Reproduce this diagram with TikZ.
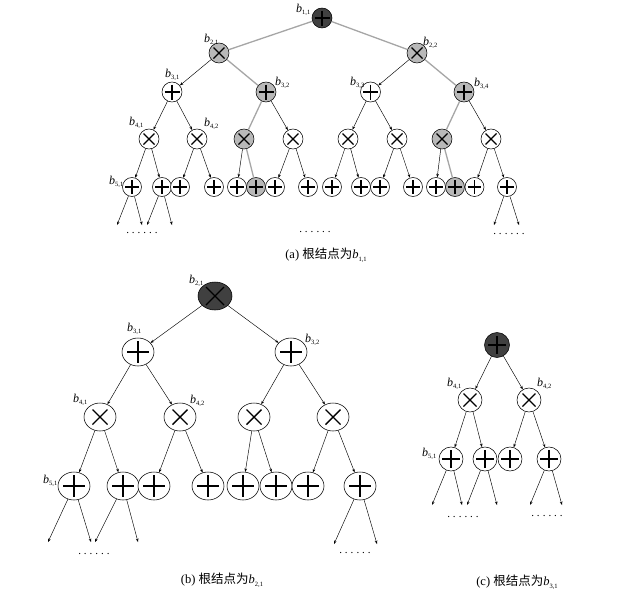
\documentclass[tikz,border=0pt]{standalone}
\usepackage{fontspec}
\setmainfont{Liberation Serif}
\newfontfamily\cjk{Noto Sans CJK SC}
\usetikzlibrary{shapes.geometric,arrows.meta}
\newcommand{\lbl}[1]{\textit{b}\raisebox{-2.5pt}{\fontsize{6.5}{6.5}\selectfont #1}}
\newcommand{\sixdots}{.\kern3pt.\kern3pt.\kern3pt.\kern3pt.\kern3pt.}
\colorlet{gfill}{black!28}
\colorlet{dfill}{black!75}
\colorlet{gedge}{black!35}
\begin{document}
\begin{tikzpicture}[x=1pt,y=-1pt,
  nd/.style={circle,draw,line width=0.55pt,inner sep=0pt,minimum size=#1},
  nd/.default=20,
  el/.style={ellipse,draw,line width=0.55pt,inner sep=0pt,minimum width=#1,minimum height=28},
  el/.default=32,
  symplus/.style 2 args={path picture={\draw[line width=#2,black] (path picture bounding box.center) ++(-#1,0) -- ++(2*#1,0) (path picture bounding box.center) ++(0,-#1) -- ++(0,2*#1);}},
  symcross/.style 2 args={path picture={\draw[line width=#2,black] (path picture bounding box.center) ++(-#1,-#1) -- ++(2*#1,2*#1) (path picture bounding box.center) ++(-#1,#1) -- ++(2*#1,-2*#1);}},
  ed/.style={line width=0.45pt,-{Stealth[length=3.5pt,width=2.6pt]}},
  ge/.style={line width=1.3pt,gedge},
  lab/.style={font=\fontsize{12}{14}\selectfont,inner sep=0pt,anchor=base west},
  captxt/.style={font=\fontsize{12.5}{15}\selectfont,inner sep=0pt},
  dotrow/.style={font=\fontsize{11}{12}\selectfont,inner sep=0pt}
]
\path[use as bounding box,fill=white] (0,0) rectangle (621,595);

% ================= panel (a) =================
\node[nd,fill=dfill,symplus={7.5}{1.1pt}] (r1) at (322,18) {};
\node[nd,fill=gfill,symcross={5.5}{1.1pt}] (a21) at (219,53) {};
\node[nd,fill=gfill,symcross={5.5}{1.1pt}] (a22) at (417,53) {};
\node[nd,fill=white,symplus={7.5}{1.1pt}] (a31) at (172,92) {};
\node[nd,fill=gfill,symplus={7.5}{1.1pt}] (a32) at (266,92) {};
\node[nd,fill=white,symplus={7.5}{1.1pt}] (a33) at (370.5,92) {};
\node[nd,fill=gfill,symplus={7.5}{1.1pt}] (a34) at (464,92) {};
\foreach \x/\f [count=\i] in {149/white,197/white,244/gfill,293/white,348/white,397/white,442/gfill,491/white}
  \node[nd,fill=\f,symcross={5.5}{1.1pt}] (a4\i) at (\x,139) {};
\foreach \x/\f [count=\i] in {132/white,162/white,180/white,214/white,237/white,256/gfill,275/white,308/white,332/white,361/white,380/white,413/white,436/white,455/gfill,474.5/white,507/white}
  \node[nd=19,fill=\f,symplus={6.8}{1.1pt}] (a5\i) at (\x,187) {};

\draw[ge] (r1) -- (a21);
\draw[ge] (r1) -- (a22);
\draw[ge] (a21) -- (a32);
\draw[ge] (a22) -- (a34);
\draw[ge] (a32) -- (a43);
\draw[ge] (a34) -- (a47);
\draw[ge] (a43) -- (a56);
\draw[ge] (a47) -- (a514);
\foreach \p/\c in {a21/a31,a22/a33,a31/a41,a31/a42,a32/a44,a33/a45,a33/a46,a34/a48,
  a41/a51,a41/a52,a42/a53,a42/a54,a43/a55,a44/a57,a44/a58,a45/a59,a45/a510,
  a46/a511,a46/a512,a47/a513,a48/a515,a48/a516}
  \draw[ed] (\p) -- (\c);

\coordinate (ae1) at (117,225);
\coordinate (ae2) at (142,225);
\coordinate (ae3) at (147,225);
\coordinate (ae4) at (172,225);
\coordinate (ae5) at (494,225);
\coordinate (ae6) at (519,225);
\draw[ed] (a51) -- (ae1);
\draw[ed] (a51) -- (ae2);
\draw[ed] (a52) -- (ae3);
\draw[ed] (a52) -- (ae4);
\draw[ed] (a516) -- (ae5);
\draw[ed] (a516) -- (ae6);

\node[dotrow] (ad1) at (142,233) {\sixdots};
\node[dotrow] (ad2) at (315,232) {\sixdots};
\node[dotrow] (ad3) at (509,234) {\sixdots};

\node[lab] (l11) at (296,12) {\lbl{1,1}};
\node[lab] (l21) at (204,42) {\lbl{2,1}};
\node[lab] (l22) at (423,45) {\lbl{2,2}};
\node[lab] (l31) at (165,77) {\lbl{3,1}};
\node[lab] (l32) at (275,85) {\lbl{3,2}};
\node[lab] (l33) at (350,85) {\lbl{3,3}};
\node[lab] (l34) at (474,86) {\lbl{3,4}};
\node[lab] (l41) at (129,125) {\lbl{4,1}};
\node[lab] (l42) at (204,126) {\lbl{4,2}};
\node[lab] (l51) at (109,184) {\lbl{5,1}};

\node[captxt] (capa) at (326,255) {(a) {\cjk 根结点为}\lbl{1,1}};

% ================= panel (b) =================
\node[el=34,fill=dfill,symcross={9}{1.4pt}] (b21) at (215,296) {};
\node[el,fill=white,symplus={11}{1.5pt}] (b31) at (138,352) {};
\node[el,fill=white,symplus={11}{1.5pt}] (b32) at (291,352) {};
\foreach \x [count=\i] in {100,180,254,333}
  \node[el,fill=white,symcross={7.5}{1.4pt}] (b4\i) at (\x,417) {};
\foreach \x [count=\i] in {74,123,154,208,243,276,308,360}
  \node[el,fill=white,symplus={11}{1.5pt}] (b5\i) at (\x,486) {};
\foreach \p/\c in {b21/b31,b21/b32,b31/b41,b31/b42,b32/b43,b32/b44,
  b41/b51,b41/b52,b42/b53,b42/b54,b43/b55,b43/b56,b44/b57,b44/b58}
  \draw[ed] (\p) -- (\c);
\coordinate (be1) at (48,542);
\coordinate (be2) at (91,542);
\coordinate (be3) at (95,542);
\coordinate (be4) at (138,542);
\coordinate (be5) at (334,544);
\coordinate (be6) at (377,544);
\draw[ed] (b51) -- (be1);
\draw[ed] (b51) -- (be2);
\draw[ed] (b52) -- (be3);
\draw[ed] (b52) -- (be4);
\draw[ed] (b58) -- (be5);
\draw[ed] (b58) -- (be6);
\node[dotrow] (bd1) at (94,554) {\sixdots};
\node[dotrow] (bd2) at (355,553) {\sixdots};

\node[lab] (m21) at (189,283) {\lbl{2,1}};
\node[lab] (m31) at (127,331) {\lbl{3,1}};
\node[lab] (m32) at (305,342) {\lbl{3,2}};
\node[lab] (m41) at (73,402) {\lbl{4,1}};
\node[lab] (m42) at (190,403) {\lbl{4,2}};
\node[lab] (m51) at (43,483) {\lbl{5,1}};

\node[captxt] (capb) at (222,580) {(b) {\cjk 根结点为}\lbl{2,1}};

% ================= panel (c) =================
\node[nd=25,fill=dfill,symplus={9}{1.2pt}] (c1) at (497,345) {};
\node[nd=24,fill=white,symcross={6.5}{1.2pt}] (c41) at (470,400) {};
\node[nd=24,fill=white,symcross={6.5}{1.2pt}] (c42) at (529,400) {};
\foreach \x [count=\i] in {451,485,510,549}
  \node[nd=24,fill=white,symplus={9}{1.2pt}] (c5\i) at (\x,459) {};
\foreach \p/\c in {c1/c41,c1/c42,c41/c51,c41/c52,c42/c53,c42/c54}
  \draw[ed] (\p) -- (\c);
\coordinate (ce1) at (432,505);
\coordinate (ce2) at (462,505);
\coordinate (ce3) at (467,505);
\coordinate (ce4) at (497,505);
\coordinate (ce5) at (530,505);
\coordinate (ce6) at (562,505);
\draw[ed] (c51) -- (ce1);
\draw[ed] (c51) -- (ce2);
\draw[ed] (c52) -- (ce3);
\draw[ed] (c52) -- (ce4);
\draw[ed] (c54) -- (ce5);
\draw[ed] (c54) -- (ce6);
\node[dotrow] (cd1) at (463,517) {\sixdots};
\node[dotrow] (cd2) at (547,516) {\sixdots};

\node[lab] (n41) at (447,386) {\lbl{4,1}};
\node[lab] (n42) at (537,386) {\lbl{4,2}};
\node[lab] (n51) at (422,456) {\lbl{5,1}};

\node[captxt] (capc) at (517,582) {(c) {\cjk 根结点为}\lbl{3,1}};
\end{tikzpicture}
\end{document}
